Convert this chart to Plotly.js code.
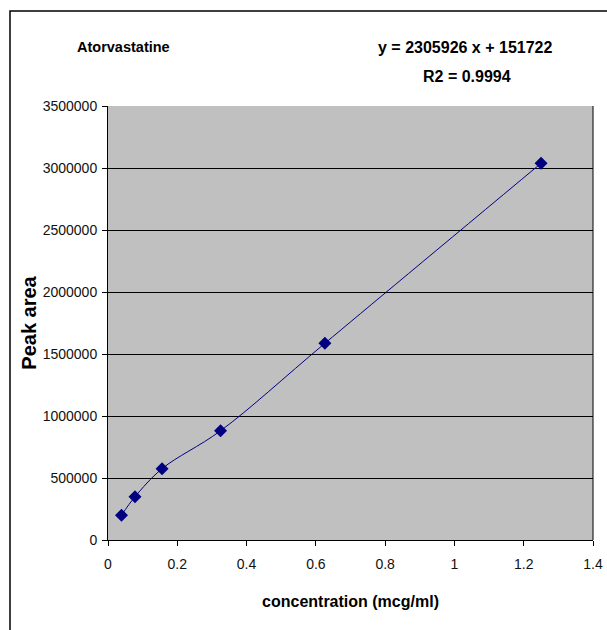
<!DOCTYPE html>
<html>
<head>
<meta charset="utf-8">
<script src="https://cdn.plot.ly/plotly-3.0.1.min.js"></script>
<style>
html,body{margin:0;padding:0;background:#fff;}
#chart{width:607px;height:630px;}
</style>
</head>
<body>
<div id="chart"></div>
<script>
const chartTitle = "Atorvastatine";
const equationLine1 = "y = 2305926 x + 151722";
const equationLine2 = "R2 = 0.9994";
const concentration = [0.039, 0.078, 0.156, 0.325, 0.626, 1.25];
const peakArea = [200000, 349000, 575000, 881000, 1586000, 3038000];
const xTickVals = [0, 0.2, 0.4, 0.6, 0.8, 1, 1.2, 1.4];
const xTickText = ["0", "0.2", "0.4", "0.6", "0.8", "1", "1.2", "1.4"];
const yTickVals = [0, 500000, 1000000, 1500000, 2000000, 2500000, 3000000, 3500000];
const yTickText = ["0", "500000", "1000000", "1500000", "2000000", "2500000", "3000000", "3500000"];

const font = "Liberation Sans, Arial, sans-serif";

const trace = {
  x: concentration,
  y: peakArea,
  type: "scatter",
  mode: "lines+markers",
  line: {color: "#000080", width: 1, shape: "spline", smoothing: 1},
  marker: {symbol: "diamond", size: 10, color: "#000080"},
  showlegend: false
};

// plot area: x 108..593, y 106..540
const L = 108, R = 593, T = 106, B = 540;
const px = v => (v - L) / (R - L);
const py = v => (B - v) / (B - T);

const layout = {
  width: 607, height: 630,
  margin: {l: L, r: 607 - R, t: T, b: 630 - B},
  paper_bgcolor: "#ffffff",
  plot_bgcolor: "#c0c0c0",
  font: {family: font, color: "#000", size: 14},
  xaxis: {
    range: [0, 1.4],
    tickvals: xTickVals, ticktext: xTickText,
    ticks: "outside", ticklen: 5, tickcolor: "#000", tickwidth: 1,
    showgrid: false, zeroline: false,
    showline: true, linecolor: "#000", linewidth: 1, mirror: false,
    tickfont: {family: font, size: 14, color: "#111"},
    ticklabelstandoff: 6,
    title: {text: "concentration (mcg/ml)", font: {family: font, size: 16, color: "#000", weight: "bold"}, standoff: 25}
  },
  yaxis: {
    range: [0, 3500000],
    tickvals: yTickVals, ticktext: yTickText,
    ticks: "outside", ticklen: 5, tickcolor: "#000", tickwidth: 1,
    showgrid: true, gridcolor: "#000", gridwidth: 1,
    zeroline: false,
    showline: true, linecolor: "#000", linewidth: 1,
    tickfont: {family: font, size: 14, color: "#111"},
    ticklabelstandoff: 2,
    title: {text: "Peak area", font: {family: font, size: 20, color: "#000", weight: "bold"}, standoff: 0}
  },
  annotations: [
    {text: chartTitle, xref: "paper", yref: "paper", x: px(123.5), y: py(47), xanchor: "center", yanchor: "middle", showarrow: false, font: {family: font, size: 14.5, color: "#000", weight: "bold"}},
    {text: equationLine1, xref: "paper", yref: "paper", x: px(464.5), y: py(47), xanchor: "center", yanchor: "middle", showarrow: false, font: {family: font, size: 16, color: "#000", weight: "bold"}},
    {text: equationLine2, xref: "paper", yref: "paper", x: px(467), y: py(77), xanchor: "center", yanchor: "middle", showarrow: false, font: {family: font, size: 16, color: "#000", weight: "bold"}}
  ],
  shapes: [
    {type: "rect", xref: "paper", yref: "paper", x0: px(10), x1: px(620), y0: py(645), y1: py(11), line: {color: "#000", width: 1.5}, fillcolor: "rgba(0,0,0,0)", layer: "below"},
    {type: "line", xref: "paper", yref: "paper", x0: 1, x1: 1, y0: 0, y1: 1, line: {color: "#000", width: 1}}
  ]
};

Plotly.newPlot("chart", [trace], layout, {displayModeBar: false, staticPlot: true});
</script>
</body>
</html>
